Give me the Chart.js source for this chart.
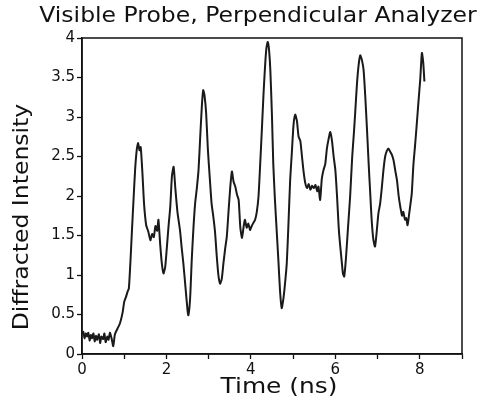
<!DOCTYPE html>
<html>
<head>
<meta charset="utf-8">
<title>Visible Probe, Perpendicular Analyzer</title>
<script src="https://cdn.jsdelivr.net/npm/chart.js@4.4.1/dist/chart.umd.min.js"></script>
<style>
  html, body { margin: 0; padding: 0; background: #fff; }
  #wrap { width: 483px; height: 406px; }
</style>
</head>
<body>
<div id="wrap"><canvas id="chart" width="483" height="406"></canvas></div>
<script>
  // values (time in ns, intensity)
  var times = [
    0.00, 0.03, 0.06, 0.09, 0.12, 0.15, 0.18, 0.21, 0.24, 0.27, 0.30, 0.33, 0.36, 0.40, 0.43, 0.46,
    0.50, 0.53, 0.56, 0.60, 0.63, 0.66, 0.70, 0.74, 0.78, 0.84, 0.90, 0.96, 1.00, 1.04, 1.08, 1.11,
    1.15, 1.18, 1.22, 1.26, 1.30, 1.33, 1.36, 1.39, 1.43, 1.47, 1.52, 1.57, 1.62, 1.66, 1.70, 1.74,
    1.78, 1.81, 1.85, 1.89, 1.93, 1.97, 2.01, 2.05, 2.09, 2.13, 2.17, 2.21, 2.26, 2.32, 2.36, 2.40,
    2.45, 2.50, 2.52, 2.56, 2.60, 2.64, 2.68, 2.72, 2.76, 2.80, 2.84, 2.87, 2.90, 2.94, 2.98, 3.03,
    3.07, 3.11, 3.15, 3.19, 3.23, 3.27, 3.31, 3.35, 3.39, 3.43, 3.47, 3.51, 3.55, 3.59, 3.63, 3.67,
    3.71, 3.75, 3.79, 3.83, 3.86, 3.90, 3.94, 3.98, 4.02, 4.06, 4.10, 4.14, 4.18, 4.22, 4.26, 4.30,
    4.34, 4.37, 4.40, 4.43, 4.46, 4.50, 4.53, 4.57, 4.61, 4.65, 4.69, 4.73, 4.77, 4.81, 4.85, 4.89,
    4.93, 4.97, 5.01, 5.05, 5.09, 5.13, 5.17, 5.21, 5.25, 5.29, 5.33, 5.37, 5.41, 5.45, 5.49, 5.53,
    5.57, 5.60, 5.64, 5.68, 5.72, 5.76, 5.80, 5.84, 5.88, 5.92, 5.96, 6.00, 6.04, 6.08, 6.11, 6.15,
    6.18, 6.21, 6.25, 6.30, 6.35, 6.40, 6.44, 6.47, 6.51, 6.55, 6.59, 6.63, 6.67, 6.71, 6.75, 6.79,
    6.83, 6.86, 6.90, 6.94, 6.98, 7.02, 7.06, 7.10, 7.14, 7.18, 7.22, 7.26, 7.30, 7.34, 7.38, 7.42,
    7.46, 7.50, 7.54, 7.58, 7.61, 7.65, 7.68, 7.71, 7.75, 7.78, 7.81, 7.85, 7.89, 7.93, 7.97, 8.01,
    8.05, 8.08, 8.11
  ];
  var intensity = [
    0.25, 0.28, 0.20, 0.26, 0.22, 0.27, 0.17, 0.24, 0.20, 0.26, 0.16, 0.23, 0.18, 0.25, 0.14, 0.22,
    0.19, 0.26, 0.15, 0.22, 0.18, 0.27, 0.20, 0.10, 0.25, 0.32, 0.39, 0.52, 0.66, 0.72, 0.79, 0.83,
    1.20, 1.53, 1.95, 2.35, 2.60, 2.67, 2.58, 2.62, 2.30, 1.90, 1.63, 1.55, 1.44, 1.52, 1.48, 1.62,
    1.56, 1.70, 1.40, 1.15, 1.02, 1.10, 1.35, 1.62, 1.86, 2.25, 2.37, 2.10, 1.80, 1.57, 1.35, 1.15,
    0.85, 0.55, 0.49, 0.70, 1.20, 1.60, 1.91, 2.10, 2.33, 2.75, 3.15, 3.34, 3.28, 3.05, 2.60, 2.20,
    1.90, 1.74, 1.55, 1.25, 1.00, 0.89, 0.95, 1.15, 1.33, 1.49, 1.80, 2.10, 2.31, 2.18, 2.12, 2.02,
    1.95, 1.60, 1.47, 1.62, 1.70, 1.60, 1.65, 1.57, 1.62, 1.66, 1.70, 1.80, 1.99, 2.40, 2.84, 3.30,
    3.68, 3.88, 3.95, 3.85, 3.60, 3.00, 2.41, 1.95, 1.57, 1.20, 0.80, 0.58, 0.70, 0.90, 1.15, 1.65,
    2.20, 2.55, 2.90, 3.03, 2.95, 2.75, 2.70, 2.50, 2.30, 2.16, 2.10, 2.15, 2.08, 2.13, 2.10, 2.14,
    2.06, 2.12, 1.95, 2.22, 2.33, 2.40, 2.60, 2.72, 2.81, 2.70, 2.50, 2.33, 2.00, 1.60, 1.40, 1.18,
    1.02, 0.98, 1.20, 1.60, 1.99, 2.50, 2.80, 3.05, 3.40, 3.65, 3.78, 3.72, 3.59, 3.25, 2.84, 2.40,
    2.00, 1.70, 1.45, 1.36, 1.55, 1.78, 1.90, 2.10, 2.33, 2.50, 2.57, 2.60, 2.56, 2.52, 2.45, 2.32,
    2.20, 2.00, 1.86, 1.75, 1.80, 1.70, 1.72, 1.63, 1.78, 1.90, 2.03, 2.40, 2.65, 2.92, 3.20, 3.47,
    3.81, 3.70, 3.45
  ];

  var xTickValues = [0, 1, 2, 3, 4, 5, 6, 7, 8, 9];
  var xTickLabels = ['0', '', '2', '', '4', '', '6', '', '8', ''];
  var yTickValues = [0, 0.5, 1, 1.5, 2, 2.5, 3, 3.5, 4];
  var yTickLabels = ['0', '0.5', '1', '1.5', '2', '2.5', '3', '3.5', '4'];

  var chartTitle = 'Visible Probe, Perpendicular Analyzer';
  var xTitle = 'Time (ns)';
  var yTitle = 'Diffracted Intensity';

  var INK = '#111';
  var FONT = "'DejaVu Sans', sans-serif";

  // text stretched sideways a little, like the plotter lettering
  function wideText(ctx, text, x, y, size, stretch) {
    ctx.save();
    ctx.translate(x, y);
    ctx.scale(stretch, 1);
    ctx.font = size + 'px ' + FONT;
    ctx.fillText(text, 0, 0);
    ctx.restore();
  }

  // box round the plot and the three titles
  var framePlugin = {
    id: 'frame',
    afterDatasetsDraw: function (chart) {
      var a = chart.chartArea;
      var ctx = chart.ctx;
      ctx.save();
      ctx.strokeStyle = INK;
      ctx.lineWidth = 1.5;
      ctx.strokeRect(a.left, a.top, a.right - a.left, a.bottom - a.top);
      ctx.restore();
    },
    afterDraw: function (chart) {
      var ctx = chart.ctx;
      ctx.save();
      ctx.fillStyle = INK;
      ctx.textAlign = 'center';
      ctx.textBaseline = 'middle';
      wideText(ctx, chartTitle, 258, 17, 21, 1.12);
      wideText(ctx, xTitle, 279, 387, 22, 1.13);
      ctx.translate(22, 217);
      ctx.rotate(-Math.PI / 2);
      wideText(ctx, yTitle, 0, 0, 22, 1.07);
      ctx.restore();
    }
  };

  var points = times.map(function (t, i) { return { x: t, y: intensity[i] }; });

  new Chart(document.getElementById('chart').getContext('2d'), {
    type: 'line',
    data: {
      datasets: [{
        data: points,
        borderColor: '#1a1a1a',
        borderWidth: 2,
        pointRadius: 0,
        tension: 0.2,
        fill: false
      }]
    },
    options: {
      responsive: false,
      animation: false,
      layout: { padding: { top: 38, right: 21, left: 0, bottom: 0 } },
      plugins: {
        legend: { display: false },
        tooltip: { enabled: false },
        title: { display: false }
      },
      scales: {
        x: {
          type: 'linear',
          min: 0,
          max: 9,
          afterBuildTicks: function (scale) {
            scale.ticks = xTickValues.map(function (v) { return { value: v }; });
          },
          afterFit: function (scale) { scale.height = 52; },
          ticks: {
            autoSkip: false,
            maxRotation: 0,
            padding: 2,
            color: INK,
            font: { size: 15, family: FONT },
            callback: function (v, i) { return xTickLabels[i]; }
          },
          grid: { drawOnChartArea: false, drawTicks: true, tickLength: 5, tickColor: INK, tickWidth: 1.3 },
          border: { display: true, color: INK, width: 1.5 }
        },
        y: {
          type: 'linear',
          min: 0,
          max: 4,
          afterBuildTicks: function (scale) {
            scale.ticks = yTickValues.map(function (v) { return { value: v }; });
          },
          afterFit: function (scale) { scale.width = 82; },
          ticks: {
            autoSkip: false,
            padding: 2,
            color: INK,
            font: { size: 15, family: FONT },
            callback: function (v, i) { return yTickLabels[i]; }
          },
          grid: { drawOnChartArea: false, drawTicks: true, tickLength: 5, tickColor: INK, tickWidth: 1.3 },
          border: { display: true, color: INK, width: 1.5 }
        }
      }
    },
    plugins: [framePlugin]
  });
</script>
</body>
</html>
